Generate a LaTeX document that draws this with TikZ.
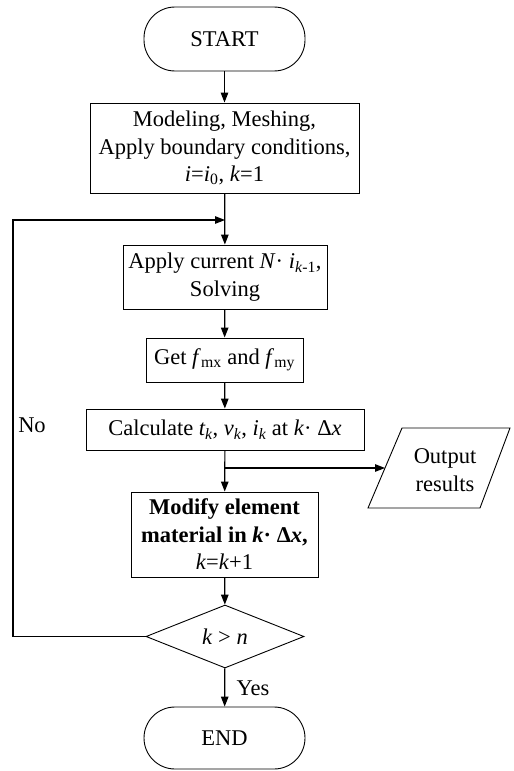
\documentclass[tikz,border=0pt]{standalone}
\usepackage{fontspec}
\setmainfont{Liberation Serif}
\usetikzlibrary{arrows.meta,shapes.geometric}
\begin{document}
\begin{tikzpicture}[x=1pt,y=-1pt,
  every node/.style={font=\fontsize{22.5}{27.5}\selectfont, align=center, inner sep=0pt},
  procbox/.style={draw, line width=0.9pt, rectangle},
  termbox/.style={draw, line width=0.9pt, rectangle, rounded corners=31pt},
  conn/.style={line width=1.2pt, -{Triangle[length=10pt,width=7.5pt]}},
  plainconn/.style={line width=1.2pt}]
\useasboundingbox (0,0) rectangle (514,771);

\node[termbox, minimum width=161pt, minimum height=64pt] (start) at (224.5,39) {START};
\node[procbox, minimum width=269pt, minimum height=90pt] (b1) at (224.5,148)
  {Modeling, Meshing,\\Apply boundary conditions,\\\textit{i}=\textit{i}\textsubscript{0}, \textit{k}=1};
\node[procbox, minimum width=204pt, minimum height=64pt] (b2) at (225,277)
  {Apply current \textit{N}· \textit{i}\textsubscript{\textit{k}-1},\\Solving};
\node[procbox, minimum width=157pt, minimum height=44pt] (b3) at (224.5,360)
  {Get \textit{f}\textsubscript{mx} and \textit{f}\textsubscript{my}};
\node[procbox, minimum width=278pt, minimum height=41pt] (b4) at (225,429.5)
  {Calculate \textit{t\textsubscript{k}}, \textit{v\textsubscript{k}}, \textit{i\textsubscript{k}} at \textit{k}· Δ\textit{x}};
\node[procbox, minimum width=187pt, minimum height=85pt] (b5) at (224.5,534.5)
  {\textbf{Modify element}\\\textbf{material in \textit{k}· Δ\textit{x},}\\\textit{k}=\textit{k}+1};
\node[draw, line width=0.9pt, diamond, minimum width=158pt, minimum height=63pt, inner sep=0pt] (dec) at (225,636.5) {};
\node (dectext) at (225,636.5) {\textit{k} > \textit{n}};
\node[termbox, minimum width=161pt, minimum height=62pt] (end) at (224.5,738) {END};

% output parallelogram
\draw[line width=0.9pt] (402,428) -- (510,428) -- (480,508) -- (368,508) -- cycle;
\node (out) at (445,470) {Output\\results};
\coordinate (outL) at (385,468);
\coordinate (br) at (225,468);
\coordinate (loop) at (225,220);
\coordinate (lc) at (13,636.5);

\draw[conn] (start) -- (b1);
\draw[conn] (b1) -- (b2);
\draw[conn] (b2) -- (b3);
\draw[conn] (b3) -- (b4);
\draw[conn] (b4) -- (b5);
\draw[conn] (br) -- (outL);
\draw[conn] (b5) -- (dec);
\draw[conn] (dec) -- (end);
\draw[conn] (dec.west) -- (lc) |- (loop);

\node (no) at (32,425) {No};
\node (yes) at (253,688) {Yes};
\end{tikzpicture}
\end{document}
